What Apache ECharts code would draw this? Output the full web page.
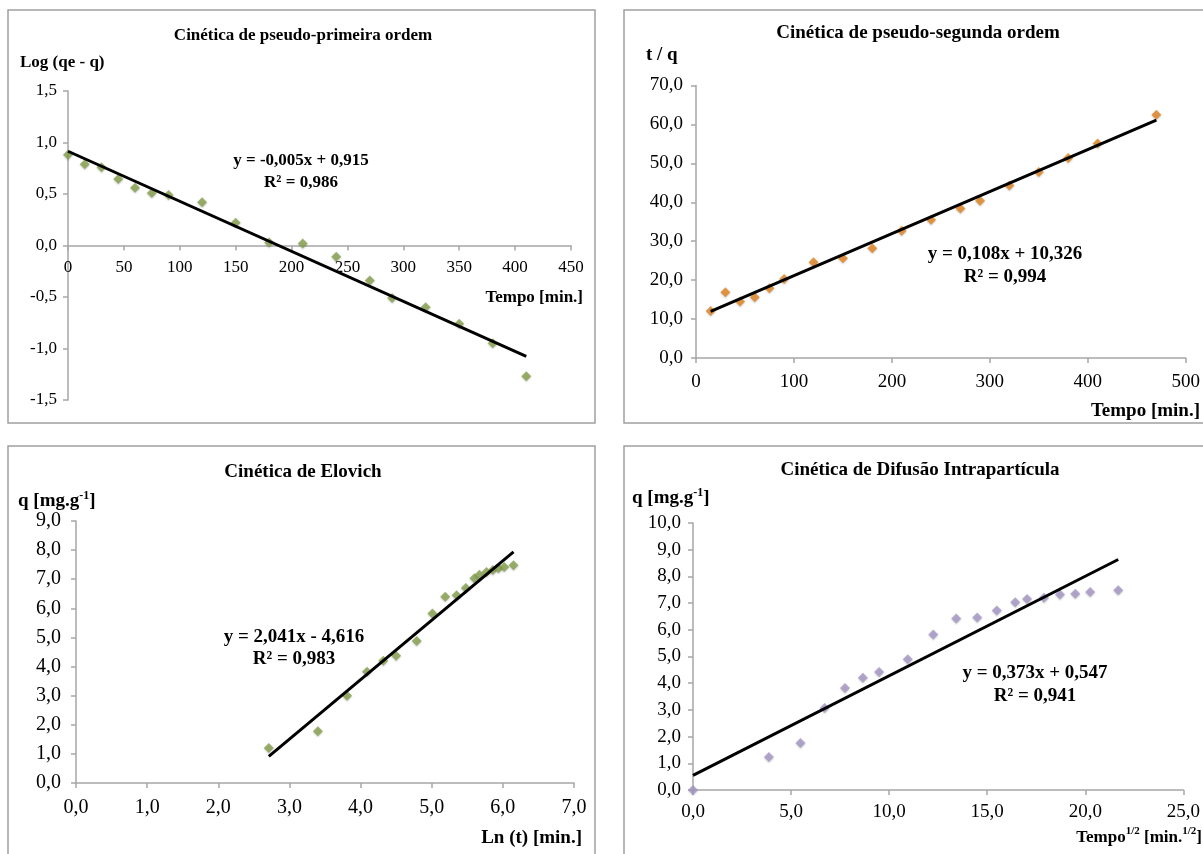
<!DOCTYPE html>
<html>
<head>
<meta charset="utf-8">
<script src="https://cdn.jsdelivr.net/npm/echarts@6/dist/echarts.min.js"></script>
<style>
html,body{margin:0;padding:0;background:#fff;}
#c{width:1203px;height:854px;}
</style>
</head>
<body>
<div id="c"></div>
<script>
// ---- Data ----
// Panel 1: pseudo-first order
const pfoX = [0,15,30,45,60,75,90,120,150,180,210,240,270,290,320,350,380,410];
const pfoY = [0.88,0.79,0.76,0.645,0.56,0.51,0.49,0.42,0.22,0.03,0.02,-0.11,-0.34,-0.51,-0.60,-0.76,-0.95,-1.27];
const pfoTrend = [-0.00486, 0.915, 0, 410]; // slope, intercept, xStart, xEnd
const pfoXTicks = ['0','50','100','150','200','250','300','350','400','450'];

// Panel 2: pseudo-second order
const psoX = [15,30,45,60,75,90,120,150,180,210,240,270,290,320,350,380,410,470];
const psoY = [12.1,16.9,14.5,15.6,17.9,20.3,24.6,25.6,28.2,32.7,35.5,38.4,40.4,44.3,47.8,51.4,55.1,62.5];
const psoTrend = [0.108, 10.326, 15, 470];

// Panel 3: Elovich
const elvX = [2.71,3.40,3.81,4.09,4.32,4.50,4.79,5.01,5.19,5.35,5.48,5.60,5.67,5.77,5.86,5.94,6.02,6.15];
const elvY = [1.2,1.78,3.0,3.82,4.2,4.37,4.88,5.82,6.4,6.45,6.7,7.03,7.15,7.25,7.32,7.38,7.42,7.48];
const elvTrend = [2.041, -4.616, 2.71, 6.15];

// Panel 4: intraparticle diffusion
const difX = [0,3.87,5.48,6.71,7.75,8.66,9.49,10.95,12.25,13.42,14.49,15.49,16.43,17.03,17.89,18.71,19.49,20.25,21.68];
const difY = [0,1.24,1.76,3.07,3.82,4.2,4.42,4.9,5.82,6.42,6.46,6.72,7.03,7.15,7.2,7.32,7.35,7.42,7.48];
const difTrend = [0.373, 0.547, 0, 21.68];

const titles = ['Cinética de pseudo-primeira ordem','Cinética de pseudo-segunda ordem','Cinética de Elovich','Cinética de Difusão Intrapartícula'];
const equations = [['y = -0,005x + 0,915','R² = 0,986'],['y = 0,108x + 10,326','R² = 0,994'],['y = 2,041x - 4,616','R² = 0,983'],['y = 0,373x + 0,547','R² = 0,941']];

// ---- Chart ----
const SERIF = '"Liberation Serif","DejaVu Serif",serif';
const AX = '#a6a6a6';
const pair = (xs, ys) => xs.map((x, i) => [x, ys[i]]);
const trend = t => [[t[2], t[0]*t[2] + t[1]], [t[3], t[0]*t[3] + t[1]]];
const comma1 = v => v.toFixed(1).replace('.', ',');

const grids = [
  {left: 68, top: 91, width: 503, height: 309},
  {left: 696, top: 85.5, width: 492, height: 272.5},
  {left: 76, top: 521, width: 498, height: 262},
  {left: 693, top: 523, width: 493, height: 267}
];

function xAx(i, min, max, interval, fmt, size, margin, offset) {
  return {
    type: 'value', gridIndex: i, min, max, interval, offset: offset || 0,
    axisLine: {show: true, onZero: false, lineStyle: {color: AX, width: 1.5}},
    axisTick: {show: true, length: 5, lineStyle: {color: AX, width: 1.5}},
    splitLine: {show: false},
    axisLabel: {formatter: fmt, color: '#000', fontFamily: SERIF, fontSize: size, margin, showMaxLabel: true, hideOverlap: false}
  };
}
function yAx(i, min, max, interval, size, margin) {
  return {
    type: 'value', gridIndex: i, min, max, interval,
    axisLine: {show: true, onZero: false, lineStyle: {color: AX, width: 1.5}},
    axisTick: {show: true, length: 5, lineStyle: {color: AX, width: 1.5}},
    splitLine: {show: false},
    axisLabel: {formatter: comma1, color: '#000', fontFamily: SERIF, fontSize: size, margin}
  };
}

function scatter(i, data, color) {
  return {
    type: 'scatter', xAxisIndex: i, yAxisIndex: i, data,
    symbol: 'diamond', symbolSize: 10,
    itemStyle: {color, shadowColor: 'rgba(0,0,0,0.25)', shadowBlur: 2, shadowOffsetY: 1},
    z: 3
  };
}
function line(i, data) {
  return {
    type: 'line', xAxisIndex: i, yAxisIndex: i, data,
    symbol: 'none', lineStyle: {color: '#000', width: 3}, z: 4, silent: true
  };
}

const boldText = (x, y, text, align, size) => ({
  type: 'text', x, y, z: 10,
  style: {text, textAlign: align || 'center', textVerticalAlign: 'middle', font: 'bold ' + (size || 15) + 'px ' + SERIF, fill: '#000'}
});
const richText = (x, y, parts, align, size) => ({
  type: 'text', x, y, z: 10,
  style: {
    text: parts, textAlign: align || 'left', textVerticalAlign: 'middle', fill: '#000',
    rich: {
      b: {font: 'bold ' + (size || 18) + 'px ' + SERIF, fill: '#000', verticalAlign: 'bottom'},
      s: {font: 'bold ' + Math.round((size || 18) * 0.62) + 'px ' + SERIF, fill: '#000', verticalAlign: 'top', padding: [0, 0, 9, 0]}
    }
  }
});
const border = (x, y, w, h) => ({
  type: 'rect', shape: {x, y, width: w, height: h}, z: 0,
  style: {fill: 'none', stroke: '#a0a0a0', lineWidth: 1.5}
});

const graphics = [
  border(8, 10, 587, 413),
  border(624, 10, 580, 413),
  border(8, 446, 587, 420),
  border(624, 446, 580, 420),
  boldText(303, 36, titles[0], 'center', 17),
  boldText(918, 33, titles[1], 'center', 19),
  boldText(303, 472, titles[2], 'center', 19),
  boldText(920, 470, titles[3], 'center', 19),
  boldText(20, 63, 'Log (qe - q)', 'left', 17),
  boldText(646, 55, 't / q', 'left', 19),
  richText(18, 500, '{b|q [mg.g}{s|-1}{b|]}', 'left', 19),
  richText(632, 497, '{b|q [mg.g}{s|-1}{b|]}', 'left', 19),
  boldText(583, 298, 'Tempo [min.]', 'right', 17),
  boldText(1200, 411, 'Tempo [min.]', 'right', 19),
  boldText(582, 838, 'Ln (t) [min.]', 'right', 19),
  richText(1202, 836, '{b|Tempo}{s|1/2}{b| [min.}{s|1/2}{b|]}', 'right', 17),
  boldText(301, 161, equations[0][0], 'center', 17),
  boldText(301, 183, equations[0][1], 'center', 17),
  boldText(1005, 254, equations[1][0], 'center', 19),
  boldText(1005, 277, equations[1][1], 'center', 19),
  boldText(294, 637, equations[2][0], 'center', 19),
  boldText(294, 659, equations[2][1], 'center', 19),
  boldText(1035, 673, equations[3][0], 'center', 19),
  boldText(1035, 696, equations[3][1], 'center', 19)
];

const option = {
  backgroundColor: '#fff',
  animation: false,
  grid: grids,
  xAxis: [
    xAx(0, 0, 450, 50, v => pfoXTicks[Math.round(v / 50)], 17, 14, -154.5),
    xAx(1, 0, 500, 100, v => String(v), 19, 15),
    xAx(2, 0, 7, 1, comma1, 20, 15),
    xAx(3, 0, 25, 5, comma1, 19, 13)
  ],
  yAxis: [
    yAx(0, -1.5, 1.5, 0.5, 17, 11),
    yAx(1, 0, 70, 10, 19, 13),
    yAx(2, 0, 9, 1, 20, 15),
    yAx(3, 0, 10, 1, 19, 12)
  ],
  series: [
    scatter(0, pair(pfoX, pfoY), '#86a04c'),
    line(0, trend(pfoTrend)),
    scatter(1, pair(psoX, psoY), '#e0831f'),
    line(1, trend(psoTrend)),
    scatter(2, pair(elvX, elvY), '#86a04c'),
    line(2, trend(elvTrend)),
    scatter(3, pair(difX, difY), '#a596c6'),
    line(3, trend(difTrend))
  ],
  graphic: graphics
};

const chart = echarts.init(document.getElementById('c'), null, {renderer: 'canvas'});
chart.setOption(option);
</script>
</body>
</html>
